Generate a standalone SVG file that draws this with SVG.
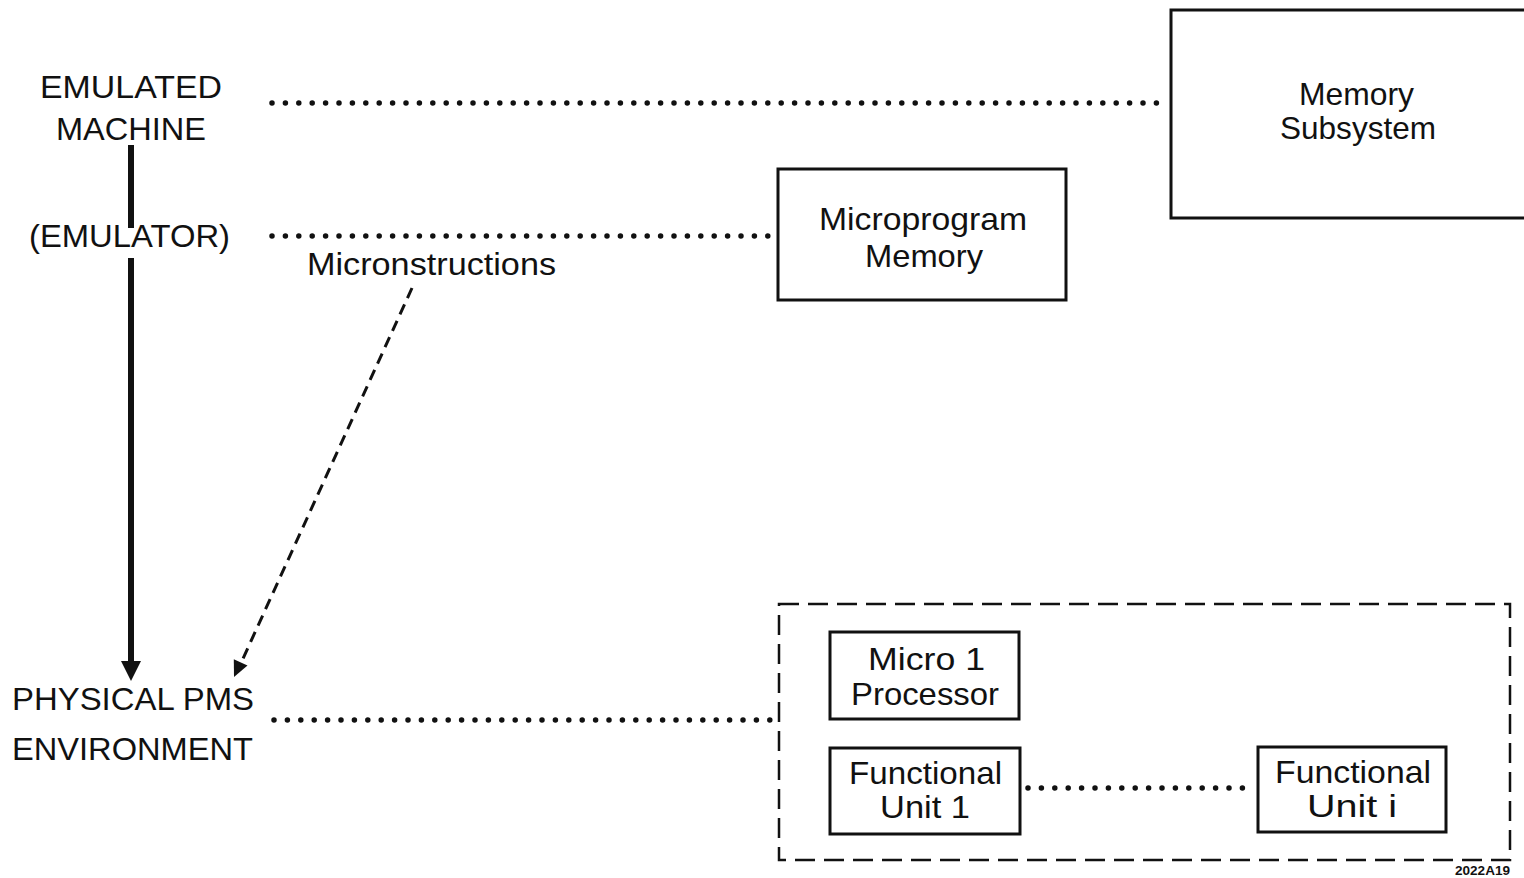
<svg xmlns="http://www.w3.org/2000/svg" width="1524" height="878" viewBox="0 0 1524 878">
  <style>
    .lbl { font-family: "Liberation Sans", Arial, sans-serif; font-size: 32px; fill: #111; }
    .box { fill: none; stroke: #111; stroke-width: 3; }
    .dots { fill: none; stroke: #111; stroke-width: 5.5; stroke-linecap: round; stroke-dasharray: 0 13.4; }
    .dash { fill: none; stroke: #111; stroke-width: 2.5; stroke-dasharray: 20 9; }
    .tag { font-family: "Liberation Sans", Arial, sans-serif; font-size: 12px; font-weight: bold; fill: #111; }
  </style>
  <rect width="1524" height="878" fill="#fff"/>

  <!-- level labels -->
  <g id="emulated-machine">
    <text class="lbl" x="40" y="98" textLength="182" lengthAdjust="spacingAndGlyphs">EMULATED</text>
    <text class="lbl" x="56" y="140" textLength="150" lengthAdjust="spacingAndGlyphs">MACHINE</text>
  </g>
  <g id="emulator">
    <text class="lbl" x="29" y="247" textLength="201" lengthAdjust="spacingAndGlyphs">(EMULATOR)</text>
  </g>
  <g id="physical-pms">
    <text class="lbl" x="12" y="710" textLength="242" lengthAdjust="spacingAndGlyphs">PHYSICAL PMS</text>
    <text class="lbl" x="12" y="760" textLength="241" lengthAdjust="spacingAndGlyphs">ENVIRONMENT</text>
  </g>
  <g id="microinstructions-label">
    <text class="lbl" x="307" y="275" font-size="30" textLength="249" lengthAdjust="spacingAndGlyphs">Micronstructions</text>
  </g>

  <!-- boxes -->
  <g id="memory-subsystem">
    <path class="box" d="M1524 10 H1171 V218 H1524"/>
    <text class="lbl" x="1299" y="105" textLength="115" lengthAdjust="spacingAndGlyphs">Memory</text>
    <text class="lbl" x="1280" y="139" textLength="156" lengthAdjust="spacingAndGlyphs">Subsystem</text>
  </g>
  <g id="microprogram-memory">
    <rect class="box" x="778" y="169" width="288" height="131"/>
    <text class="lbl" x="819" y="230" textLength="208" lengthAdjust="spacingAndGlyphs">Microprogram</text>
    <text class="lbl" x="865" y="267" textLength="118" lengthAdjust="spacingAndGlyphs">Memory</text>
  </g>
  <g id="pms-environment">
    <rect class="dash" x="779" y="604" width="731" height="256"/>
    <text class="tag" x="1455" y="875" textLength="55" lengthAdjust="spacingAndGlyphs">2022A19</text>
  </g>
  <g id="micro1-processor">
    <rect class="box" x="830" y="632" width="189" height="87"/>
    <text class="lbl" x="868" y="670" textLength="117" lengthAdjust="spacingAndGlyphs">Micro 1</text>
    <text class="lbl" x="851" y="705" textLength="148" lengthAdjust="spacingAndGlyphs">Processor</text>
  </g>
  <g id="functional-unit-1">
    <rect class="box" x="830" y="748" width="190" height="86"/>
    <text class="lbl" x="849" y="784" textLength="153" lengthAdjust="spacingAndGlyphs">Functional</text>
    <text class="lbl" x="880" y="818" textLength="90" lengthAdjust="spacingAndGlyphs">Unit 1</text>
  </g>
  <g id="functional-unit-i">
    <rect class="box" x="1258" y="747" width="188" height="85"/>
    <text class="lbl" x="1275" y="783" textLength="156" lengthAdjust="spacingAndGlyphs">Functional</text>
    <text class="lbl" x="1307" y="817" textLength="90" lengthAdjust="spacingAndGlyphs">Unit i</text>
  </g>

  <!-- connectors -->
  <g id="connectors">
    <!-- level correspondences -->
    <line class="dots" x1="272" y1="103" x2="1162" y2="103"/>
    <line class="dots" x1="272" y1="236" x2="772" y2="236"/>
    <line class="dots" x1="274" y1="720" x2="772" y2="720"/>
    <line class="dots" x1="1028" y1="788" x2="1252" y2="788"/>
    <!-- emulation hierarchy -->
    <line x1="131" y1="145" x2="131" y2="228" stroke="#111" stroke-width="6"/>
    <line x1="131" y1="258" x2="131" y2="664" stroke="#111" stroke-width="6"/>
    <polygon points="121,661 141,661 131,681" fill="#111"/>
    <!-- microinstructions into the physical environment -->
    <line x1="412" y1="288" x2="241" y2="663" fill="none" stroke="#111" stroke-width="3" stroke-dasharray="11 7"/>
    <polygon points="234,677 247.5,665.5 233.8,659.3" fill="#111"/>
  </g>
</svg>
